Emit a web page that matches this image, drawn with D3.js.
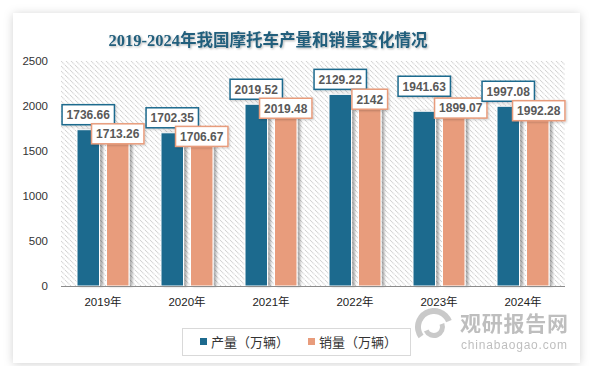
<!DOCTYPE html>
<html><head><meta charset="utf-8">
<script src="https://cdn.jsdelivr.net/npm/d3@7/dist/d3.min.js"></script>
<style>body{margin:0;background:#fff}svg{display:block}</style>
</head><body>
<svg id="c" width="594" height="366"></svg>
<script>
const title = "2019-2024年我国摩托车产量和销量变化情况";
const years = ["2019年","2020年","2021年","2022年","2023年","2024年"];
const production = [1736.66, 1702.35, 2019.52, 2129.22, 1941.63, 1997.08];
const sales = [1713.26, 1706.67, 2019.48, 2142, 1899.07, 1992.28];
const productionLabels = ["1736.66","1702.35","2019.52","2129.22","1941.63","1997.08"];
const salesLabels = ["1713.26","1706.67","2019.48","2142","1899.07","1992.28"];
const seriesNames = ["产量（万辆）","销量（万辆）"];
const yTicks = [0, 500, 1000, 1500, 2000, 2500];
// layout nudges for data-label boxes (pixels), as placed in the original
const prodLabelDy = [0, 0, 0, 0, -10, 0];
const salesLabelDy = [-2, 0, 0, 2, -11, 0];
const salesLabelDx = [0, 0, 0, 0, 7, 1];

const colors = ["#1d6a8e", "#e89c7c"];
const svg = d3.select("#c");
const defs = svg.append("defs");

const f1 = defs.append("filter").attr("id","cardShadow").attr("x","-10%").attr("y","-10%").attr("width","120%").attr("height","120%");
f1.append("feDropShadow").attr("dx",0).attr("dy",1).attr("stdDeviation",5).attr("flood-color","#000").attr("flood-opacity",0.18);
const f2 = defs.append("filter").attr("id","barShadow").attr("x","-20%").attr("y","-5%").attr("width","160%").attr("height","110%");
f2.append("feDropShadow").attr("dx",3).attr("dy",0).attr("stdDeviation",1.2).attr("flood-color","#000").attr("flood-opacity",0.3);
const f3 = defs.append("filter").attr("id","boxShadow").attr("x","-20%").attr("y","-30%").attr("width","140%").attr("height","160%");
f3.append("feDropShadow").attr("dx",1).attr("dy",1).attr("stdDeviation",1).attr("flood-color","#000").attr("flood-opacity",0.2);
const f4 = defs.append("filter").attr("id","titleShadow");
f4.append("feDropShadow").attr("dx",1).attr("dy",1).attr("stdDeviation",0.8).attr("flood-color","#000").attr("flood-opacity",0.3);

const pat = defs.append("pattern").attr("id","hatch").attr("patternUnits","userSpaceOnUse")
  .attr("width",5).attr("height",5);
pat.append("rect").attr("width",5).attr("height",5).attr("fill","#fff");
pat.append("path").attr("d","M-1,-1 L6,6 M-1,4 L1,6 M4,-1 L6,1").attr("stroke","#cdcdcd").attr("stroke-width",1.1).attr("stroke-dasharray","1,0.6");

svg.append("rect").attr("x",13).attr("y",13).attr("width",567).attr("height",350)
  .attr("fill","#fff").attr("filter","url(#cardShadow)");

const plot = {left:61, right:565, top:61, bottom:286};
const x0 = d3.scaleBand().domain(years).range([plot.left, plot.right]).paddingInner(0.381).paddingOuter(0.1905);
const x1 = d3.scaleBand().domain([0,1]).range([0, x0.bandwidth()]).paddingInner(0.237);
const y = d3.scaleLinear().domain([0, 2500]).range([plot.bottom, plot.top]);

svg.append("rect").attr("x",plot.left).attr("y",plot.top).attr("width",plot.right-plot.left)
  .attr("height",plot.bottom-plot.top).attr("fill","url(#hatch)");

// title
svg.append("text").attr("x",268).attr("y",46).attr("text-anchor","middle")
  .attr("font-family","'Liberation Serif','Noto Sans CJK SC',serif").attr("font-weight","bold")
  .attr("font-size",16.5).attr("fill","#215e7c").attr("filter","url(#titleShadow)").text(title);

// y axis labels
const yAxis = d3.axisLeft(y).tickValues(yTicks).tickSize(0).tickPadding(0).tickFormat(d3.format("d"));
const ya = svg.append("g").attr("transform","translate(48,0)").call(yAxis);
ya.select(".domain").remove();
ya.selectAll("text").attr("font-family","'Liberation Sans','Open Sans',sans-serif").attr("font-size",11.5).attr("fill","#333");

// watermark
const wm = svg.append("g").attr("opacity",0.9);
wm.append("path").attr("d", d3.arc()({innerRadius:13, outerRadius:19, startAngle:-2.2, endAngle:1.2}))
  .attr("transform","translate(434,327)").attr("fill","#c4c4c4");
wm.append("path").attr("d", d3.arc()({innerRadius:6, outerRadius:11, startAngle:1.2, endAngle:4.3}))
  .attr("transform","translate(434,327)").attr("fill","#c4c4c4");
wm.append("text").attr("x",460).attr("y",331).attr("font-family","'Noto Sans CJK SC',sans-serif")
  .attr("font-weight","bold").attr("font-size",21).attr("fill","#b8b8b8").attr("textLength",108).text("观研报告网");
wm.append("text").attr("x",461).attr("y",349).attr("font-family","'Liberation Sans',sans-serif")
  .attr("font-size",12).attr("fill","#b8b8b8").attr("textLength",106).text("chinabaogao.com");

// bars
const data = years.map((yr,i)=>({yr, vals:[production[i], sales[i]], i}));
const groups = svg.append("g").selectAll("g").data(data).join("g")
  .attr("transform", d=>`translate(${x0(d.yr)},0)`);
groups.selectAll("rect").data(d=>d.vals.map((v,s)=>({v,s}))).join("rect")
  .attr("x", d=>x1(d.s)).attr("width", x1.bandwidth())
  .attr("y", d=>y(d.v)).attr("height", d=>y(0)-y(d.v))
  .attr("fill", d=>colors[d.s]).attr("stroke","#fff").attr("stroke-width",1)
  .attr("filter","url(#barShadow)");

// axis line
svg.append("line").attr("x1",plot.left).attr("x2",plot.right).attr("y1",plot.bottom+0.5).attr("y2",plot.bottom+0.5)
  .attr("stroke","#8c8c8c").attr("stroke-width",1.2);

// x labels
const xAxis = d3.axisBottom(x0).tickSize(0).tickPadding(0);
const xa = svg.append("g").attr("transform",`translate(0,${plot.bottom+12})`).call(xAxis);
xa.select(".domain").remove();
xa.selectAll("text").attr("font-family","'Liberation Sans','Noto Sans CJK SC',sans-serif").attr("font-size",11.5).attr("fill","#222");

// data labels
function labelBox(cx, cy, txt, color){
  const g = svg.append("g");
  const t = g.append("text").attr("x",cx).attr("y",cy+4.3).attr("text-anchor","middle")
    .attr("font-family","'Liberation Sans',sans-serif").attr("font-weight","bold").attr("font-size",12)
    .attr("fill","#595959").text(txt);
  const w = t.node().getComputedTextLength() + 9;
  g.insert("rect","text").attr("x",cx-w/2).attr("y",cy-10).attr("width",w).attr("height",20)
    .attr("fill","#fff").attr("stroke",color).attr("stroke-width",1.5).attr("filter","url(#boxShadow)");
}
data.forEach(d=>{
  const i = d.i;
  const cxP = x0(d.yr) + x1(0) + x1.bandwidth()/2;
  const cxS = x0(d.yr) + x1(1) + x1.bandwidth()/2;
  labelBox(cxP, y(production[i]) - 15 + prodLabelDy[i], productionLabels[i], colors[0]);
  labelBox(cxS + salesLabelDx[i], y(sales[i]) + 4 + salesLabelDy[i], salesLabels[i], colors[1]);
});

// legend
svg.append("rect").attr("x",182.5).attr("y",328.5).attr("width",228).attr("height",27)
  .attr("fill","#fff").attr("stroke","#d9d9d9");
const lx = [200, 308];
seriesNames.forEach((n,s)=>{
  svg.append("rect").attr("x",lx[s]).attr("y",338).attr("width",7).attr("height",7).attr("fill",colors[s]);
  svg.append("text").attr("x",lx[s]+11).attr("y",346.5).attr("font-family","'Noto Sans CJK SC',sans-serif")
    .attr("font-size",13).attr("fill","#333").text(n);
});
</script>
</body></html>
